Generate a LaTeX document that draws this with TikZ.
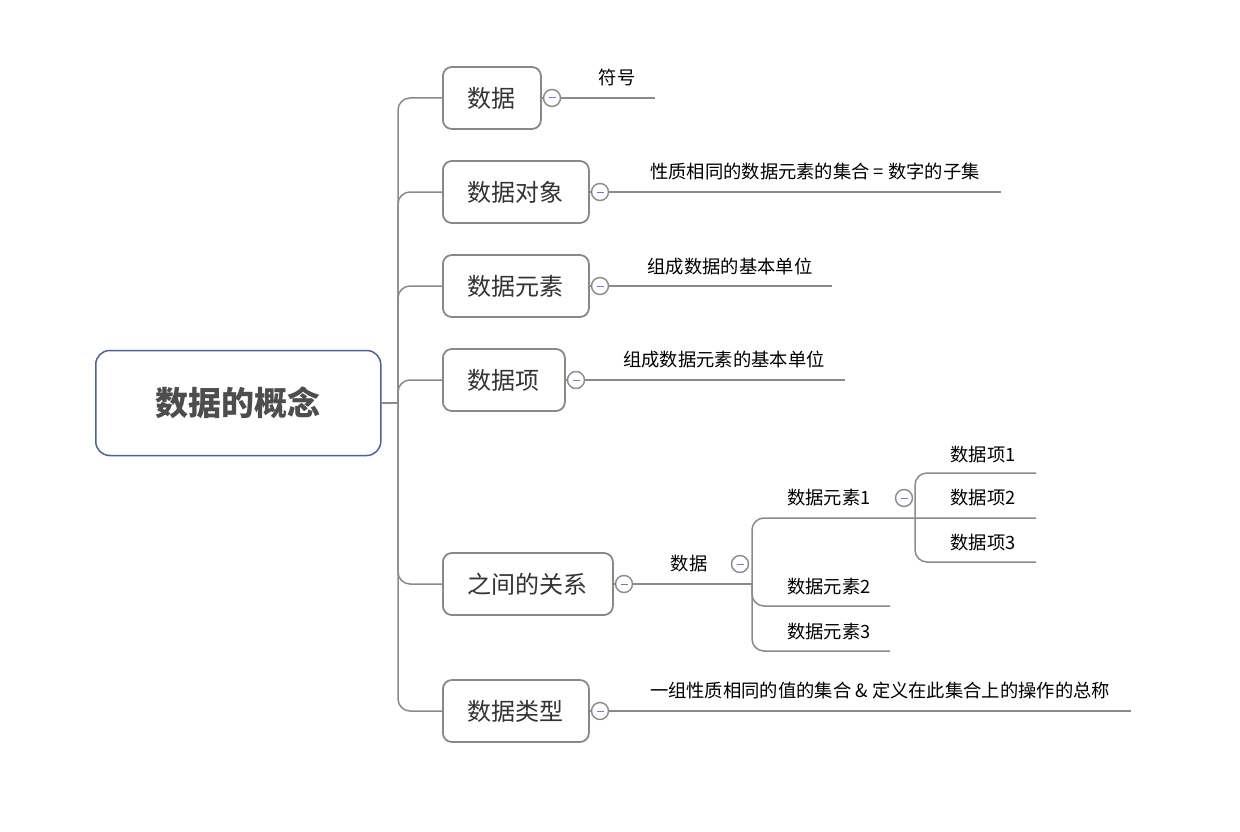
\documentclass[tikz,border=0pt]{standalone}
\usepackage{fontspec}
\setmainfont{Noto Sans CJK SC}
\definecolor{rootblue}{HTML}{4A6394}
\definecolor{rootgray}{HTML}{4D4D4D}
\definecolor{boxgray}{HTML}{8C8782}
\definecolor{linegray}{HTML}{8A8A8A}
\definecolor{circgray}{HTML}{8A8A8A}
\definecolor{minusblue}{HTML}{6F7FC4}
\definecolor{txtgray}{HTML}{333333}
\tikzset{
  rootbox/.style={draw=rootblue, line width=1.5pt, rounded corners=14pt, fill=white,
    minimum width=285pt, minimum height=105pt, inner sep=0pt, anchor=west,
    font=\fontsize{33}{33}\selectfont\bfseries, text=rootgray},
  topic/.style={draw=boxgray, line width=1.8pt, rounded corners=9pt, fill=white,
    minimum height=62pt, inner sep=0pt, anchor=west,
    font=\fontsize{24}{24}\selectfont, text=txtgray},
  collapse/.style={circle, draw=circgray, line width=1.4pt, fill=white,
    minimum size=17pt, inner sep=0pt,
    path picture={\draw[minusblue, line width=1pt]
      ([xshift=-3.5pt]path picture bounding box.center) --
      ([xshift=3.5pt]path picture bounding box.center);}},
  leaf/.style={font=\fontsize{18.3}{18.3}\selectfont, inner sep=0pt, text=black},
  conn/.style={draw=linegray, line width=1.5pt, rounded corners=12pt},
}
\begin{document}
\begin{tikzpicture}[x=1pt,y=-1pt]
\useasboundingbox (0,0) rectangle (1240,832);
% root
\node[rootbox] (root) at (95,403) {数据的概念};
\coordinate (hub) at (398,403);
% topics
\node[topic, minimum width=98pt]  (t1) at (442,98)  {数据};
\node[topic, minimum width=146pt] (t2) at (442,192) {数据对象};
\node[topic, minimum width=146pt] (t3) at (442,286) {数据元素};
\node[topic, minimum width=122pt] (t4) at (442,380) {数据项};
\node[topic, minimum width=170pt] (t5) at (442,584) {之间的关系};
\node[topic, minimum width=146pt] (t6) at (442,711) {数据类型};
% trunk
\draw[conn] (root.east) -- (hub);
\foreach \t in {t1,t2,t3,t4,t5,t6}{
  \draw[conn] (hub) |- (\t.west);
}
% collapse circles
\node[collapse] (c1) at (552,98)  {};
\node[collapse] (c2) at (600,192) {};
\node[collapse] (c3) at (600,286) {};
\node[collapse] (c4) at (576,380) {};
\node[collapse] (c5) at (624,584) {};
\node[collapse] (c6) at (600,711) {};
% line ends
\coordinate (e1) at (655,98);
\coordinate (e2) at (1001,192);
\coordinate (e3) at (832,286);
\coordinate (e4) at (845,380);
\coordinate (e6) at (1131,711);
\coordinate (j5) at (752,584);
\foreach \i in {1,2,3,4,6}{
  \draw[conn] (t\i.east) -- (c\i.west);
  \draw[conn] (c\i.east) -- (e\i);
}
\draw[conn] (t5.east) -- (c5.west);
\draw[conn] (c5.east) -- (j5);
% leaf texts
\node[leaf] (l1) at (617,78)  {符号};
\node[leaf] (l2) at (815,172) {性质相同的数据元素的集合 = 数字的子集};
\node[leaf] (l3) at (730,267) {组成数据的基本单位};
\node[leaf] (l4) at (724,360) {组成数据元素的基本单位};
\node[leaf] (l6) at (880,691) {一组性质相同的值的集合 \& 定义在此集合上的操作的总称};
% relation subtree
\node[leaf] (d) at (689,564) {数据};
\node[collapse] (cd) at (740,564) {};
\coordinate (ea1) at (1036,518);
\coordinate (ea2) at (890,606);
\coordinate (ea3) at (890,651);
\draw[conn] (j5) |- (ea1);
\draw[conn] (j5) |- (ea2);
\draw[conn] (j5) |- (ea3);
\node[leaf] (a1) at (829,498) {数据元素1};
\node[leaf] (a2) at (829,587) {数据元素2};
\node[leaf] (a3) at (829,632) {数据元素3};
\node[collapse] (ca1) at (904,498) {};
\coordinate (j1) at (915,518);
\coordinate (eb1) at (1036,473);
\coordinate (eb3) at (1036,562);
\draw[conn] (j1) |- (eb1);
\draw[conn] (j1) |- (eb3);
\node[leaf] (b1) at (983,455) {数据项1};
\node[leaf] (b2) at (983,498) {数据项2};
\node[leaf] (b3) at (983,543) {数据项3};
\end{tikzpicture}
\end{document}
